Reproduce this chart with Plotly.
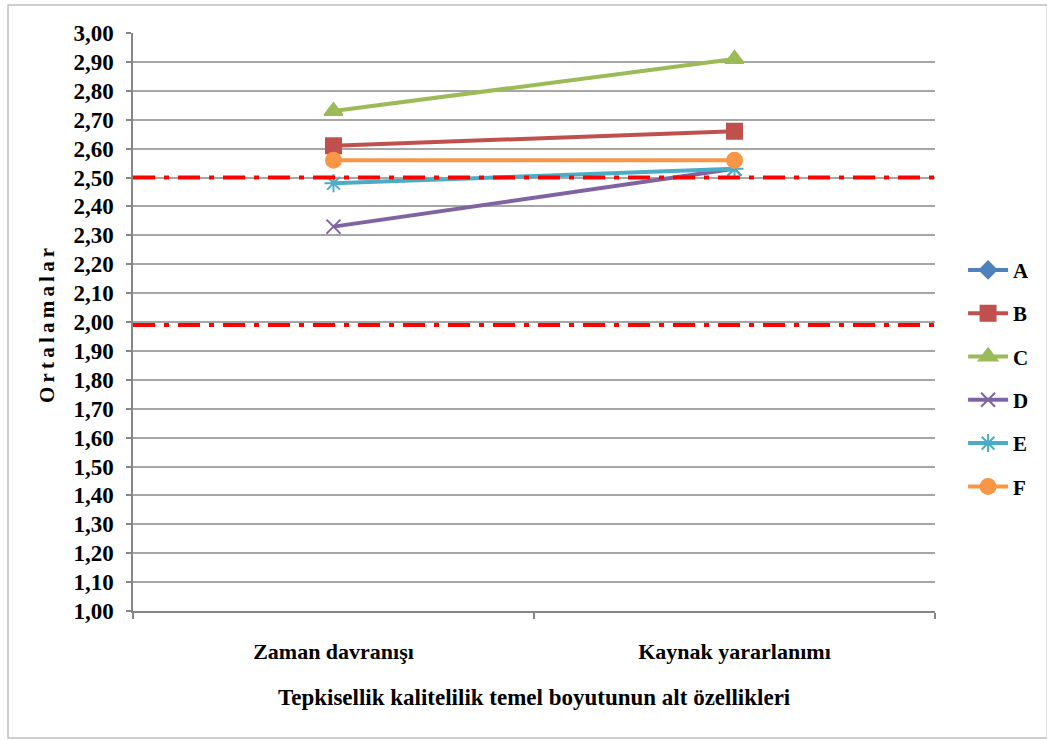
import plotly.graph_objects as go

# Sub-characteristics of the responsiveness quality dimension
categories = ["Zaman davranışı", "Kaynak yararlanımı"]

series_names = ["A", "B", "C", "D", "E", "F"]
series_values = {
    "A": [None, None],
    "B": [2.61, 2.66],
    "C": [2.73, 2.91],
    "D": [2.33, 2.53],
    "E": [2.48, 2.53],
    "F": [2.56, 2.56],
}
series_colors = {
    "A": "#4F81BD",
    "B": "#C0504D",
    "C": "#9BBB59",
    "D": "#8064A2",
    "E": "#4BACC6",
    "F": "#F79646",
}
series_symbols = {
    "A": "diamond",
    "B": "square",
    "C": "triangle-up",
    "D": "x-thin-open",
    "E": "asterisk-open",
    "F": "circle",
}
series_sizes = {"A": 13, "B": 15, "C": 16, "D": 14, "E": 15, "F": 15}

# Threshold reference lines
threshold_values = [2.50, 1.99]

y_ticks = [round(1.0 + 0.1 * i, 2) for i in range(21)]

FONT = "Liberation Serif"

fig = go.Figure()
for name in series_names:
    fig.add_trace(go.Scatter(
        x=categories,
        y=series_values[name],
        name=name,
        mode="lines+markers",
        legendgroup=name,
        line=dict(color=series_colors[name], width=4),
        marker=dict(symbol=series_symbols[name], size=series_sizes[name],
                    color=series_colors[name],
                    line=dict(color=series_colors[name], width=2)),
        connectgaps=False,
    ))

for t in threshold_values:
    fig.add_shape(type="line", xref="paper", yref="y", x0=0, x1=1, y0=t, y1=t,
                  line=dict(color="#FF0000", width=4, dash="22px,9px,5px,9px"),
                  layer="above")

# chart border
fig.add_shape(type="rect", xref="paper", yref="paper",
              x0=-125 / 802, x1=1.14, y0=-127 / 578, y1=1 + 28 / 578,
              line=dict(color="#BFBFBF", width=1.5), layer="below")

fig.update_layout(
    width=1047, height=740,
    margin=dict(l=133, r=112, t=33, b=129),
    paper_bgcolor="white", plot_bgcolor="white",
    separators=",.",
    font=dict(family=FONT, color="black"),
    showlegend=True,
    legend=dict(x=1.035, y=0.625, xanchor="left", yanchor="top",
                font=dict(family=FONT, size=21, weight="bold"),
                tracegroupgap=13, itemwidth=40, bgcolor="rgba(0,0,0,0)"),
    xaxis=dict(
        type="category", range=[-0.5, 1.5], tickson="boundaries",
        showgrid=False, showline=True, linecolor="#868686", linewidth=1.5,
        ticks="outside", ticklen=6, tickcolor="#868686", tickwidth=1.5,
        ticklabelstandoff=20,
        tickfont=dict(family=FONT, size=22, weight="bold"),
        fixedrange=True,
    ),
    yaxis=dict(
        range=[1.0, 3.0], tickvals=y_ticks, tickformat=".2f",
        showgrid=True, gridcolor="#A6A6A6", gridwidth=1.5,
        showline=True, linecolor="#868686", linewidth=1.5,
        ticks="outside", ticklen=5, tickcolor="#868686", tickwidth=1.5,
        ticklabelstandoff=8,
        tickfont=dict(family=FONT, size=23, weight="bold"),
        zeroline=False, fixedrange=True,
    ),
    annotations=[
        dict(text="Tepkisellik kalitelilik temel boyutunun alt özellikleri",
             xref="paper", yref="paper", x=0.5, y=-86 / 578,
             xanchor="center", yanchor="middle", showarrow=False,
             font=dict(family=FONT, size=23, weight="bold")),
        dict(text="O\u2009r\u2009t\u2009a\u2009l\u2009a\u2009m\u2009a\u2009l\u2009a\u2009r",
             xref="paper", yref="paper", x=-86 / 802, y=(611 - 326) / 578,
             xanchor="center", yanchor="middle", showarrow=False, textangle=-90,
             font=dict(family=FONT, size=21, weight="bold")),
    ],
)

fig.write_html("out.html")
